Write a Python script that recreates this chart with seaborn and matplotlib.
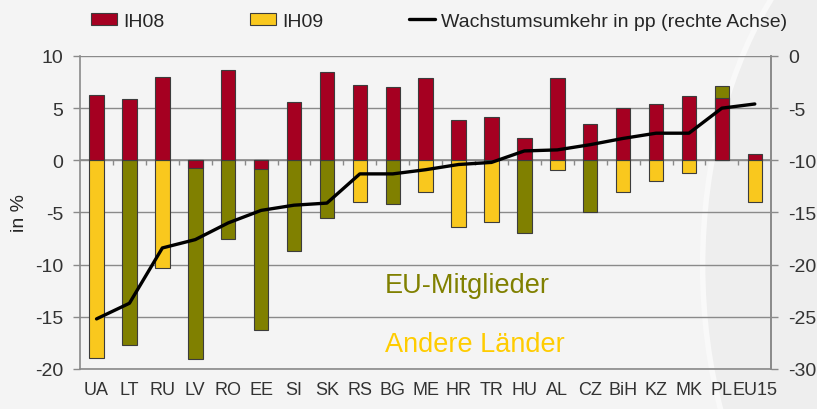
import numpy as np
import pandas as pd
import matplotlib
matplotlib.use("Agg")
import matplotlib.pyplot as plt
from matplotlib.patches import Patch, Ellipse
from matplotlib.lines import Line2D
import seaborn as sns

# ── Daten ───────────────────────────────────────────────────────────
laender = ["UA", "LT", "RU", "LV", "RO", "EE", "SI", "SK", "RS", "BG", "ME",
           "HR", "TR", "HU", "AL", "CZ", "BiH", "KZ", "MK", "PL", "EU15"]
ih08 = [6.3, 5.9, 8.0, -0.7, 8.7, -0.8, 5.6, 8.5, 7.2, 7.0, 7.9,
        3.9, 4.2, 2.1, 7.9, 3.5, 5.0, 5.4, 6.2, 6.0, 0.6]
ih09 = [-18.9, -17.7, -10.3, -18.3, -7.5, -15.5, -8.7, -5.5, -4.0, -4.2, -3.0,
        -6.4, -5.9, -7.0, -0.9, -5.0, -3.0, -2.0, -1.2, 1.1, -4.0]
gruppe = ["andere", "eu", "andere", "eu", "eu", "eu", "eu", "eu", "andere", "eu", "andere",
          "andere", "andere", "eu", "andere", "eu", "andere", "andere", "andere", "eu", "andere"]
umkehr = [-25.2, -23.7, -18.4, -17.6, -16.0, -14.8, -14.3, -14.1, -11.3, -11.3, -10.9,
          -10.4, -10.2, -9.1, -9.0, -8.5, -7.9, -7.4, -7.4, -5.0, -4.6]

ROT = "#A50021"
GELB = "#F9C81E"
OLIV = "#808000"
GRAU = "#8a8a8a"
HG = "#f4f4f4"
FS = 14

# ── Stil ────────────────────────────────────────────────────────────
sns.set_theme(style="white")
plt.rcParams.update({
    "font.family": ["Liberation Sans", "DejaVu Sans"],
    "font.size": FS,
    "axes.unicode_minus": False,
    "figure.facecolor": HG,
    "axes.facecolor": "none",
    "axes.edgecolor": GRAU,
    "xtick.color": "#333333",
    "ytick.color": GRAU,
    "ytick.labelcolor": "#333333",
    "xtick.labelcolor": "#333333",
})

df = pd.DataFrame({"land": laender, "ih08": ih08, "ih09": ih09,
                   "gruppe": gruppe, "umkehr": umkehr})
# Excel-Stapel: gleiches Vorzeichen -> IH09 sitzt auf IH08
df["ih09_top"] = np.where(np.sign(df["ih08"]) == np.sign(df["ih09"]),
                          df["ih08"] + df["ih09"], df["ih09"])

fig = plt.figure(figsize=(8.17, 4.10), dpi=100)
# dezenter Hintergrundbogen wie in der Vorlage
fig.patches.append(Ellipse((1.17, 0.35), 0.62, 1.9, transform=fig.transFigure,
                           facecolor="#eeeeee", edgecolor="#f9f9f9",
                           linewidth=4, zorder=-10))
ax = fig.add_axes([0.098, 0.0976, 0.846, 0.7634])

breite = 0.44
kante = dict(edgecolor="#3c3c3c", linewidth=0.8)
sns.barplot(data=df, x="land", y="ih09_top", hue="gruppe", order=laender,
            palette={"eu": OLIV, "andere": GELB}, dodge=False, width=breite,
            saturation=1, legend=False, ax=ax, zorder=3, **kante)
sns.barplot(data=df, x="land", y="ih08", color=ROT, order=laender,
            width=breite, saturation=1, ax=ax, zorder=4, **kante)

ax.set_xlim(-0.5, len(laender) - 0.5)
ax.set_ylim(-20, 10)
ax.set_yticks(np.arange(-20, 11, 5))
ax.yaxis.grid(True, color=GRAU, linewidth=1)
ax.set_axisbelow(True)
ax.spines["top"].set_visible(False)
for s in ["left", "right", "bottom"]:
    ax.spines[s].set_color(GRAU)
    ax.spines[s].set_linewidth(1.2)
ax.tick_params(axis="y", direction="out", length=5, width=1, pad=7,
               labelsize=FS, left=True)
ax.tick_params(axis="x", length=0, pad=9, labelsize=13)
ax.set_xlabel("")
ax.set_ylabel("in %", fontsize=FS, labelpad=5)

# kleine Kategorie-Trennstriche an der Nulllinie
grenzen = np.arange(len(laender) - 1) + 0.5
ax.vlines(grenzen, -0.45, 0, color=GRAU, linewidth=1, zorder=2)
ax.axhline(0, color=GRAU, linewidth=1.2, zorder=2)

# rechte Achse: Wachstumsumkehr
ax2 = ax.twinx()
sns.lineplot(x=np.arange(len(laender)), y=df["umkehr"], ax=ax2,
             color="black", linewidth=2.4, zorder=5)
ax2.set_ylim(-30, 0)
ax2.set_yticks(np.arange(-30, 1, 5))
ax2.set_ylabel("")
ax2.tick_params(axis="y", direction="out", length=5, width=1, pad=7,
                labelsize=FS, right=True)
for s in ["left", "top", "bottom"]:
    ax2.spines[s].set_visible(False)
ax2.spines["right"].set_color(GRAU)
ax2.spines["right"].set_linewidth(1.2)

ax.text(8.77, -12.6, "EU-Mitglieder", color=OLIV, fontsize=19.5, zorder=6)
ax.text(8.77, -18.25, "Andere Länder", color="#FFCC00", fontsize=19.5, zorder=6)

handles = [Patch(facecolor=ROT, **kante), Patch(facecolor=GELB, **kante),
           Line2D([0], [0], color="black", linewidth=2.4)]
fig.legend(handles, ["IH08", "IH09", "Wachstumsumkehr in pp (rechte Achse)"],
           loc="upper left", bbox_to_anchor=(0.095, 1.0), ncol=3, frameon=False,
           fontsize=FS, handlelength=1.35, handleheight=0.6, handletextpad=0.3,
           columnspacing=4.4, borderaxespad=0.3)

fig.savefig("out.png", dpi=100, facecolor=HG)
